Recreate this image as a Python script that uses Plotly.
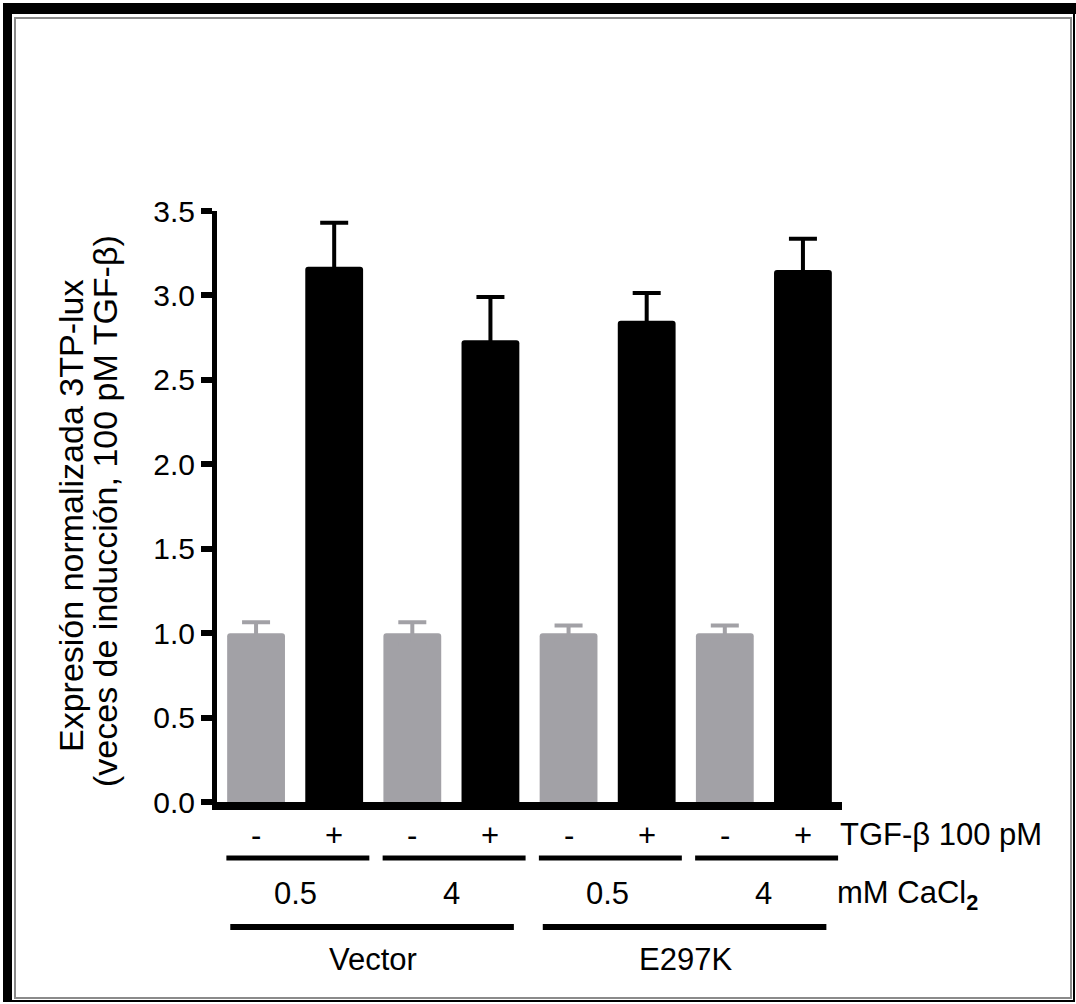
import plotly.graph_objects as go

W, H = 1076, 1004

# ---- data ----
positions = [0, 1, 2, 3, 4, 5, 6, 7]
tgf_labels = ["-", "+", "-", "+", "-", "+", "-", "+"]
cacl2_labels = ["0.5", "4", "0.5", "4"]
construct_labels = ["Vector", "E297K"]

ctrl_x = [0, 2, 4, 6]
ctrl_values = [1.00, 1.00, 1.00, 1.00]
ctrl_errors = [0.065, 0.065, 0.045, 0.045]

tgf_x = [1, 3, 5, 7]
tgf_values = [3.17, 2.735, 2.85, 3.15]
tgf_errors = [0.26, 0.255, 0.165, 0.185]

GRAY = "#a2a1a6"
FONT = "Liberation Sans, Arial, sans-serif"
FS = 31
FS_TICK = 30
FS_TITLE = 34


def px_x(p):
    return p / W


def px_y(p):
    return (H - p) / H


fig = go.Figure()
fig.add_trace(go.Bar(
    x=ctrl_x, y=ctrl_values, width=0.74,
    marker=dict(color=GRAY, line=dict(width=0), cornerradius=3),
    error_y=dict(type="data", array=ctrl_errors, symmetric=True,
                 color=GRAY, thickness=4, width=14),
    showlegend=False,
))
fig.add_trace(go.Bar(
    x=tgf_x, y=tgf_values, width=0.74,
    marker=dict(color="black", line=dict(width=0), cornerradius=3),
    error_y=dict(type="data", array=tgf_errors, symmetric=True,
                 color="black", thickness=4, width=14),
    showlegend=False,
))

annotations = []
shapes = []


def txt(size):
    return dict(size=size, color="black", family=FONT)


# TGF +/- labels
for x, lab in zip(positions, tgf_labels):
    annotations.append(dict(x=x, y=px_y(835), xref="x", yref="paper", text=lab,
                            showarrow=False, font=txt(FS),
                            xanchor="center", yanchor="middle"))
# row 1 lines + CaCl2 labels
for g, lab in enumerate(cacl2_labels):
    shapes.append(dict(type="line", xref="x", yref="paper", x0=2 * g - 0.38, x1=2 * g + 1.45,
                       y0=px_y(858), y1=px_y(858), line=dict(color="black", width=5)))
    annotations.append(dict(x=2 * g + 0.5, y=px_y(893), xref="x", yref="paper", text=lab,
                            showarrow=False, font=txt(FS),
                            xanchor="center", yanchor="middle"))
# row 2 lines + construct labels
for h, lab in enumerate(construct_labels):
    shapes.append(dict(type="line", xref="x", yref="paper", x0=4 * h - 0.33, x1=4 * h + 3.3,
                       y0=px_y(927), y1=px_y(927), line=dict(color="black", width=6)))
    annotations.append(dict(x=4 * h + 1.5, y=px_y(959), xref="x", yref="paper", text=lab,
                            showarrow=False, font=txt(FS),
                            xanchor="center", yanchor="middle"))

annotations.append(dict(x=px_x(838), y=px_y(834), xref="paper", yref="paper",
                        text="TGF-β 100 pM", showarrow=False, xanchor="left", yanchor="middle",
                        font=txt(FS)))
annotations.append(dict(x=px_x(835), y=px_y(895), xref="paper", yref="paper",
                        text="mM CaCl<sub><b>2</b></sub>", showarrow=False, xanchor="left",
                        yanchor="middle", font=txt(FS)))

# y title (two lines)
annotations.append(dict(x=px_x(71), y=px_y(516), xref="paper", yref="paper",
                        text="Expresión normalizada 3TP-lux", textangle=-90, showarrow=False,
                        xanchor="center", yanchor="middle", font=txt(FS_TITLE)))
annotations.append(dict(x=px_x(105), y=px_y(511), xref="paper", yref="paper",
                        text="(veces de inducción, 100 pM TGF-β)", textangle=-90, showarrow=False,
                        xanchor="center", yanchor="middle", font=txt(FS_TITLE)))

# frame
shapes += [
    dict(type="rect", xref="paper", yref="paper", x0=px_x(15), x1=px_x(1071),
         y0=px_y(998), y1=px_y(18), line=dict(color="#8a8a8a", width=2), fillcolor="rgba(0,0,0,0)"),
    dict(type="rect", xref="paper", yref="paper", x0=px_x(3), x1=px_x(1076),
         y0=px_y(14), y1=px_y(3), line=dict(width=0), fillcolor="black"),
    dict(type="rect", xref="paper", yref="paper", x0=px_x(3), x1=px_x(12),
         y0=px_y(1002), y1=px_y(3), line=dict(width=0), fillcolor="black"),
    dict(type="line", xref="paper", yref="paper", x0=px_x(1074), x1=px_x(1074),
         y0=px_y(1002), y1=px_y(3), line=dict(color="black", width=2)),
    dict(type="line", xref="paper", yref="paper", x0=px_x(3), x1=px_x(1075),
         y0=px_y(1001), y1=px_y(1001), line=dict(color="black", width=2)),
]

fig.update_layout(
    width=W, height=H, autosize=False,
    margin=dict(l=0, r=0, t=0, b=0, pad=0, autoexpand=False),
    paper_bgcolor="white", plot_bgcolor="white",
    barmode="overlay", showlegend=False,
    font=dict(family=FONT, size=FS, color="black"),
    annotations=annotations, shapes=shapes,
    xaxis=dict(domain=[px_x(217), px_x(842)], range=[-0.5, 7.5], automargin=False,
               showline=True, linecolor="black", linewidth=8,
               showticklabels=False, ticks="", showgrid=False, zeroline=False),
    yaxis=dict(domain=[px_y(802), px_y(211)], range=[0, 3.5], automargin=False,
               showline=True, linecolor="black", linewidth=5,
               ticks="outside", ticklen=11, tickwidth=6, tickcolor="black",
               tickmode="linear", tick0=0, dtick=0.5, tickformat=".1f",
               tickfont=txt(FS_TICK),
               showgrid=False, zeroline=False),
)

fig.write_html("out.html", config={"displayModeBar": False, "responsive": False},
               post_script="document.body.style.margin='0';document.body.style.overflow='hidden';")
